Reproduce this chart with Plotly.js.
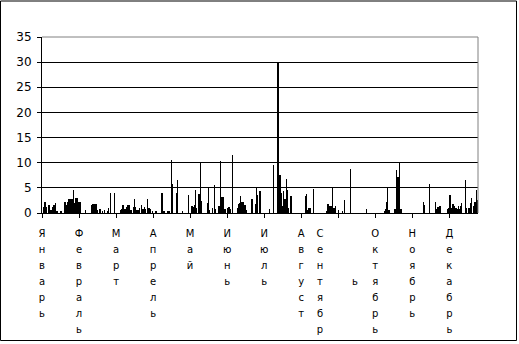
<!DOCTYPE html>
<html>
<head>
<meta charset="utf-8">
<script src="https://cdn.plot.ly/plotly-3.0.1.min.js"></script>
<style>html,body{margin:0;padding:0;background:#fff;}</style>
</head>
<body>
<div id="chart" style="width:519px;height:344px;"></div>
<script>
// Daily values by month (day-of-year order)
const jan = [0,1.2,2.1,1.1,0,1.5,1.5,0.5,1.2,1.5,1.5,2.0,0.3,0,0,0.4,0.4,0,2.1,2.1,1.6,2.1,2.7,2.7,2.7,2.7,4.5,1.9,2.9,2.9,2.2];
const feb = [2.2,2.2,0,0,0,0.5,0,0,0,0,1.6,1.7,1.7,1.7,1.7,0.5,0,0.8,0,0.3,0,0.6,0,0.3,0.9,0,3.9,0];
const mar = [0,3.9,0,0,0,0,0.5,0.7,1.5,1.5,0.7,1.2,1.5,1.6,1.6,0.6,0,1.2,2.8,1.1,0.6,0.6,0.9,0,1.6,0.7,1.2,0.8,0,2.7,1.0];
const apr = [0.8,0,0.3,0,0,0.3,0,0,0,0,3.9,0.3,0.3,0,0,0.4,0.4,0,10.5,5.7,0,0,4.0,6.6,0,0,0,0.4,0,0];
const may = [0,0,3.6,0,0,1.3,1.2,1.5,4.5,1.0,0,3.8,10.0,2.4,0,0,0,0,1.9,5.0,0.5,0,1.0,0,5.5,0.8,0,1.4,1.4,10.3,3.2];
const jun = [3.2,0.8,0.8,0,1.0,1.2,0.8,0,11.5,0,0,0,1.0,1.7,2.0,3.3,2.2,2.2,1.5,1.6,0.5,0,0,0,2.7,2.7,0,1.8,5.0,3.6];
const jul = [0,4.3,0,0,0,0,0,0,0,0.8,0,0,9.5,0,0,0,30,7.5,7.5,3.9,1.3,4.4,2.7,6.8,4.5,0.9,0,3.4,0,0,0];
const aug = [0,0,0,0,0,0,0,0,3.4,3.8,0.5,0.9,0.9,0,0,4.7,0,0,0,0,0,0,0,0,0,0,0.4,1.8,1.3,1.3,1.4];
const sep = [5.0,1.0,1.3,0,0,0.6,0,0,0.4,0,2.6,0,0,0,0,8.8,0,0,0,0,0,0,0,0,0,0,0,0,0.8,0];
const oct = [0,0,0,0,0,0,0,0,0,0,0,0,0,0.3,0.7,2.2,5.0,0.5,0,0,0,0,0.8,8.6,7.2,7.2,9.9,0.7,0,0,0];
const nov = [0,0,0,0,0,0,0,0,0,0,0,0,0,0,0,2.2,1.6,0,0,0,5.7,0,0,0,0,2.2,0.7,1.2,1.4,1.4];
const dec = [0,0,0,0,0,0.8,1.0,3.6,1.0,1.8,1.7,1.3,1.0,0.8,1.3,0.8,1.3,2.0,0,0,6.6,1.0,0,1.0,2.0,3.0,0,1.3,2.2,4.5,2.6];

const monthNames = ["Январь","Февраль","Март","Апрель","Май","Июнь","Июль","Август","Сентябрь","Октябрь","Ноябрь","Декабрь"];

const values = [].concat(jan,feb,mar,apr,may,jun,jul,aug,sep,oct,nov,dec);
const days = values.map((v,i)=>i+1);

// label layout (mimicking the stacked vertical labels of the original)
const tickStart = 0.5, tickStep = 31;
const letterSpan = s => '<span style="font-size:10px">' + s + '</span>';
const stack = arr => arr.map(c => c === '' ? '\u00a0' : letterSpan(c)).join('<br>');

const labVals = [], labText = [];
monthNames.forEach((m,k) => {
  const chars = Array.from(m);
  if (m === "Сентябрь") {
    labVals.push(233.2); labText.push(stack(chars.slice(0,7)));
    labVals.push(262.5); labText.push(stack(['','','',chars[7]]));
  } else {
    labVals.push(tickStart + tickStep*k); labText.push(stack(chars));
  }
});

const font = "DejaVu Sans, Verdana, sans-serif";

const traces = [
  {type:'bar', x:days, y:values, marker:{color:'#000000', line:{width:0}}, hoverinfo:'x+y'},
  {type:'scatter', x:[], y:[], xaxis:'x2', showlegend:false}
];

const layout = {
  width:519, height:344,
  margin:{l:42, r:41, t:37, b:131, pad:0},
  paper_bgcolor:'#ffffff', plot_bgcolor:'#ffffff',
  showlegend:false,
  bargap:0,
  xaxis:{range:[0.5,365.5], tickmode:'linear', tick0:tickStart, dtick:tickStep,
         ticks:'outside', ticklen:4, tickcolor:'#000', tickwidth:1,
         showline:true, linecolor:'#000', linewidth:1, showgrid:false, zeroline:false,
         showticklabels:false, fixedrange:true},
  xaxis2:{overlaying:'x', anchor:'y', side:'bottom', range:[0.5,365.5],
          tickmode:'array', tickvals:labVals, ticktext:labText, ticks:'',
          showline:false, showgrid:false, zeroline:false, ticklabelstandoff:11,
          tickangle:0, tickfont:{family:font, size:12.3, color:'#000'}},
  yaxis:{range:[0,35], tickmode:'linear', tick0:0, dtick:5,
         showgrid:true, gridcolor:'#000', gridwidth:1,
         showline:true, linecolor:'#000', linewidth:1, zeroline:false,
         ticks:'outside', ticklen:4, tickcolor:'#000',
         tickfont:{family:font, size:12, color:'#000'}, ticklabelstandoff:3},
  shapes:[
    {type:'line', xref:'paper', yref:'paper', x0:0, x1:1, y0:1, y1:1, line:{color:'#808080', width:1}, layer:'above'},
    {type:'line', xref:'paper', yref:'paper', x0:1, x1:1, y0:0, y1:1, line:{color:'#808080', width:1}, layer:'above'},
    {type:'rect', xref:'paper', yref:'paper', x0:-41.5/436, x1:1+38.5/436, y0:-127.5/176, y1:1+36/176, line:{color:'#000', width:1}, layer:'above'}
  ]
};

Plotly.newPlot('chart', traces, layout, {displayModeBar:false, staticPlot:true});
</script>
</body>
</html>
